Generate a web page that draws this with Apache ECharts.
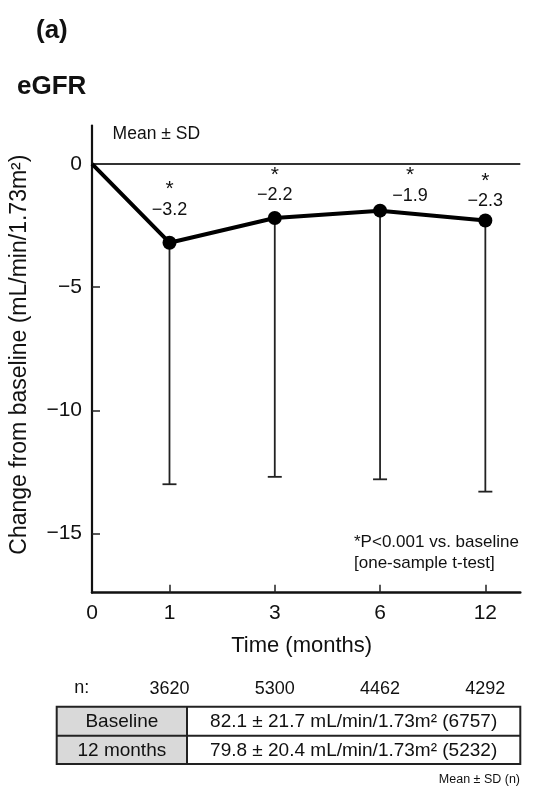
<!DOCTYPE html>
<html><head><meta charset="utf-8">
<script src="https://cdn.jsdelivr.net/npm/echarts@6/dist/echarts.min.js"></script>
<style>html,body{margin:0;padding:0;background:#fff}#c{width:535px;height:786px}</style>
</head><body><div id="c"></div>
<script>
// ---- data ----
const months = ['0', '1', '3', '6', '12'];
const meanChange = [0, -3.2, -2.2, -1.9, -2.3];
const sdChange = [null, 9.8, 10.5, 10.9, 11.0];
const nCounts = [null, 3620, 5300, 4462, 4292];
const yTicks = [0, -5, -10, -15];
const tableRows = ['Baseline', '12 months'];
const tableValues = ['82.1 \u00b1 21.7 mL/min/1.73m\u00b2 (6757)', '79.8 \u00b1 20.4 mL/min/1.73m\u00b2 (5232)'];

// ---- layout helpers ----
const FONT = '"Liberation Sans", Arial, Helvetica, sans-serif';
const X0 = 0.264;            // axis origin slot (month 0)
const XMAX = 4.332;
const slot = i => (i === 0 ? X0 : i);
const slotIndex = v => (v < 0.5 ? 0 : Math.round(v));
const fmt = v => (v < 0 ? '\u2212' : '') + Math.abs(v).toFixed(1);
const fmtTick = v => (v < 0 ? '\u2212' : '') + Math.abs(v);
const labelShift = [null, [0, -16], [0, -6], [30, 2], [0, -2]];

const lineData = meanChange.map((v, i) => ({
  value: [slot(i), v],
  symbol: i === 0 ? 'none' : 'circle',
  label: i === 0 ? { show: false } : { show: true, offset: labelShift[i] }
}));
const errData = [];
meanChange.forEach((v, i) => { if (sdChange[i] != null) errData.push([slot(i), v, v - sdChange[i]]); });

const chart = echarts.init(document.getElementById('c'), null, { renderer: 'canvas' });
const tL = 56.7, tC = 187, tR = 520.3, tT = 706.7, tM = 735.7, tB = 764;
const txt = (text, x, y, size, extra) => ({
  type: 'text', x: x, y: y, silent: true,
  style: Object.assign({ text: text, font: size + 'px ' + FONT, fill: '#111', textVerticalAlign: 'middle' }, extra || {})
});
const graphics = [
  txt('(a)', 36, 31, 26, { font: 'bold 26px ' + FONT }),
  txt('eGFR', 17, 87, 26, { font: 'bold 26px ' + FONT }),
  txt('Mean \u00b1 SD', 112.6, 134, 17.5),
  txt('*P<0.001 vs. baseline', 354, 542.3, 17),
  txt('[one-sample t-test]', 354, 563.3, 17),
  txt('n:', 81.7, 688.3, 18, { textAlign: 'center' }),
  { type: 'rect', silent: true, shape: { x: tL, y: tT, width: tC - tL, height: tB - tT }, style: { fill: '#d9d9d9' } },
  { type: 'rect', silent: true, shape: { x: tL, y: tT, width: tR - tL, height: tB - tT }, style: { fill: 'none', stroke: '#222', lineWidth: 2 } },
  { type: 'line', silent: true, shape: { x1: tL, y1: tM, x2: tR, y2: tM }, style: { stroke: '#222', lineWidth: 2 } },
  { type: 'line', silent: true, shape: { x1: tC, y1: tT, x2: tC, y2: tB }, style: { stroke: '#222', lineWidth: 2 } },
  txt('Mean \u00b1 SD (n)', 520, 780, 12.5, { textAlign: 'right' })
];
tableRows.forEach((r, i) => {
  const cy = i === 0 ? (tT + tM) / 2 : (tM + tB) / 2;
  graphics.push(txt(r, (tL + tC) / 2, cy + 0.5, 19, { textAlign: 'center' }));
  graphics.push(txt(tableValues[i], (tC + tR) / 2, cy + 0.5, 19, { textAlign: 'center' }));
});

chart.setOption({
  animation: false,
  backgroundColor: '#fff',
  textStyle: { fontFamily: FONT },
  grid: { left: 92, right: 14.7, top: 125.6, bottom: 193.3, containLabel: false, outerBoundsMode: 'none' },
  xAxis: [{
    type: 'value', min: X0, max: XMAX, position: 'bottom',
    axisLine: { show: true, onZero: false, lineStyle: { color: '#111', width: 2.5 } },
    axisTick: { show: true, inside: true, length: 8, customValues: [1, 2, 3, 4], lineStyle: { color: '#222', width: 1.5 } },
    axisLabel: { customValues: [X0, 1, 2, 3, 4], showMinLabel: true, showMaxLabel: true,
      formatter: v => months[slotIndex(v)], fontSize: 21, color: '#111', margin: 10, fontFamily: FONT },
    splitLine: { show: false },
    name: 'Time (months)', nameLocation: 'middle', nameGap: 42,
    nameTextStyle: { fontSize: 22, color: '#111', fontFamily: FONT, padding: [0, 9, 0, 0] }
  }, {
    type: 'value', min: X0, max: XMAX, position: 'bottom', offset: 78,
    axisLine: { show: false }, axisTick: { show: false }, splitLine: { show: false },
    axisLabel: { customValues: [1, 2, 3, 4], formatter: v => String(nCounts[Math.round(v)]),
      fontSize: 18, color: '#111', margin: 9, fontFamily: FONT }
  }],
  yAxis: {
    type: 'value', min: -17.4, max: 1.55,
    axisLine: { show: true, onZero: false, lineStyle: { color: '#111', width: 2.2 } },
    axisTick: { show: true, inside: true, length: 8, customValues: yTicks, lineStyle: { color: '#222', width: 1.5 } },
    axisLabel: { customValues: yTicks, formatter: fmtTick, fontSize: 21, color: '#111', margin: 10, fontFamily: FONT },
    splitLine: { show: false },
    name: 'Change from baseline (mL/min/1.73m\u00b2)', nameLocation: 'middle', nameGap: 61,
    nameTextStyle: { fontSize: 23, color: '#111', fontFamily: FONT, padding: [0, 0, 0, 9] }
  },
  graphic: graphics,
  series: [{
    type: 'custom', xAxisIndex: 0, yAxisIndex: 0, silent: true, z: 2,
    data: errData,
    encode: { x: 0, y: [1, 2] },
    renderItem: (params, api) => {
      const top = api.coord([api.value(0), api.value(1)]);
      const bot = api.coord([api.value(0), api.value(2)]);
      const st = { stroke: '#222', lineWidth: 1.8 };
      return { type: 'group', children: [
        { type: 'line', shape: { x1: top[0], y1: top[1], x2: bot[0], y2: bot[1] }, style: st },
        { type: 'line', shape: { x1: bot[0] - 7, y1: bot[1], x2: bot[0] + 7, y2: bot[1] }, style: st }
      ] };
    }
  }, {
    type: 'line', xAxisIndex: 0, yAxisIndex: 0, z: 5, silent: true,
    data: lineData,
    symbolSize: 14,
    lineStyle: { color: '#000', width: 4 },
    itemStyle: { color: '#000' },
    label: {
      show: true, position: 'top', distance: 0, color: '#111',
      formatter: p => '{s|*}\n{v|' + fmt(p.value[1]) + '}',
      rich: {
        s: { fontSize: 21, lineHeight: 20, fontFamily: FONT, color: '#111', align: 'center' },
        v: { fontSize: 18, lineHeight: 20, fontFamily: FONT, color: '#111', align: 'center' }
      }
    },
    markLine: {
      silent: true, symbol: ['none', 'none'], label: { show: false },
      lineStyle: { color: '#333', width: 2, type: 'solid' },
      data: [{ yAxis: 0 }]
    }
  }]
});
</script></body></html>
